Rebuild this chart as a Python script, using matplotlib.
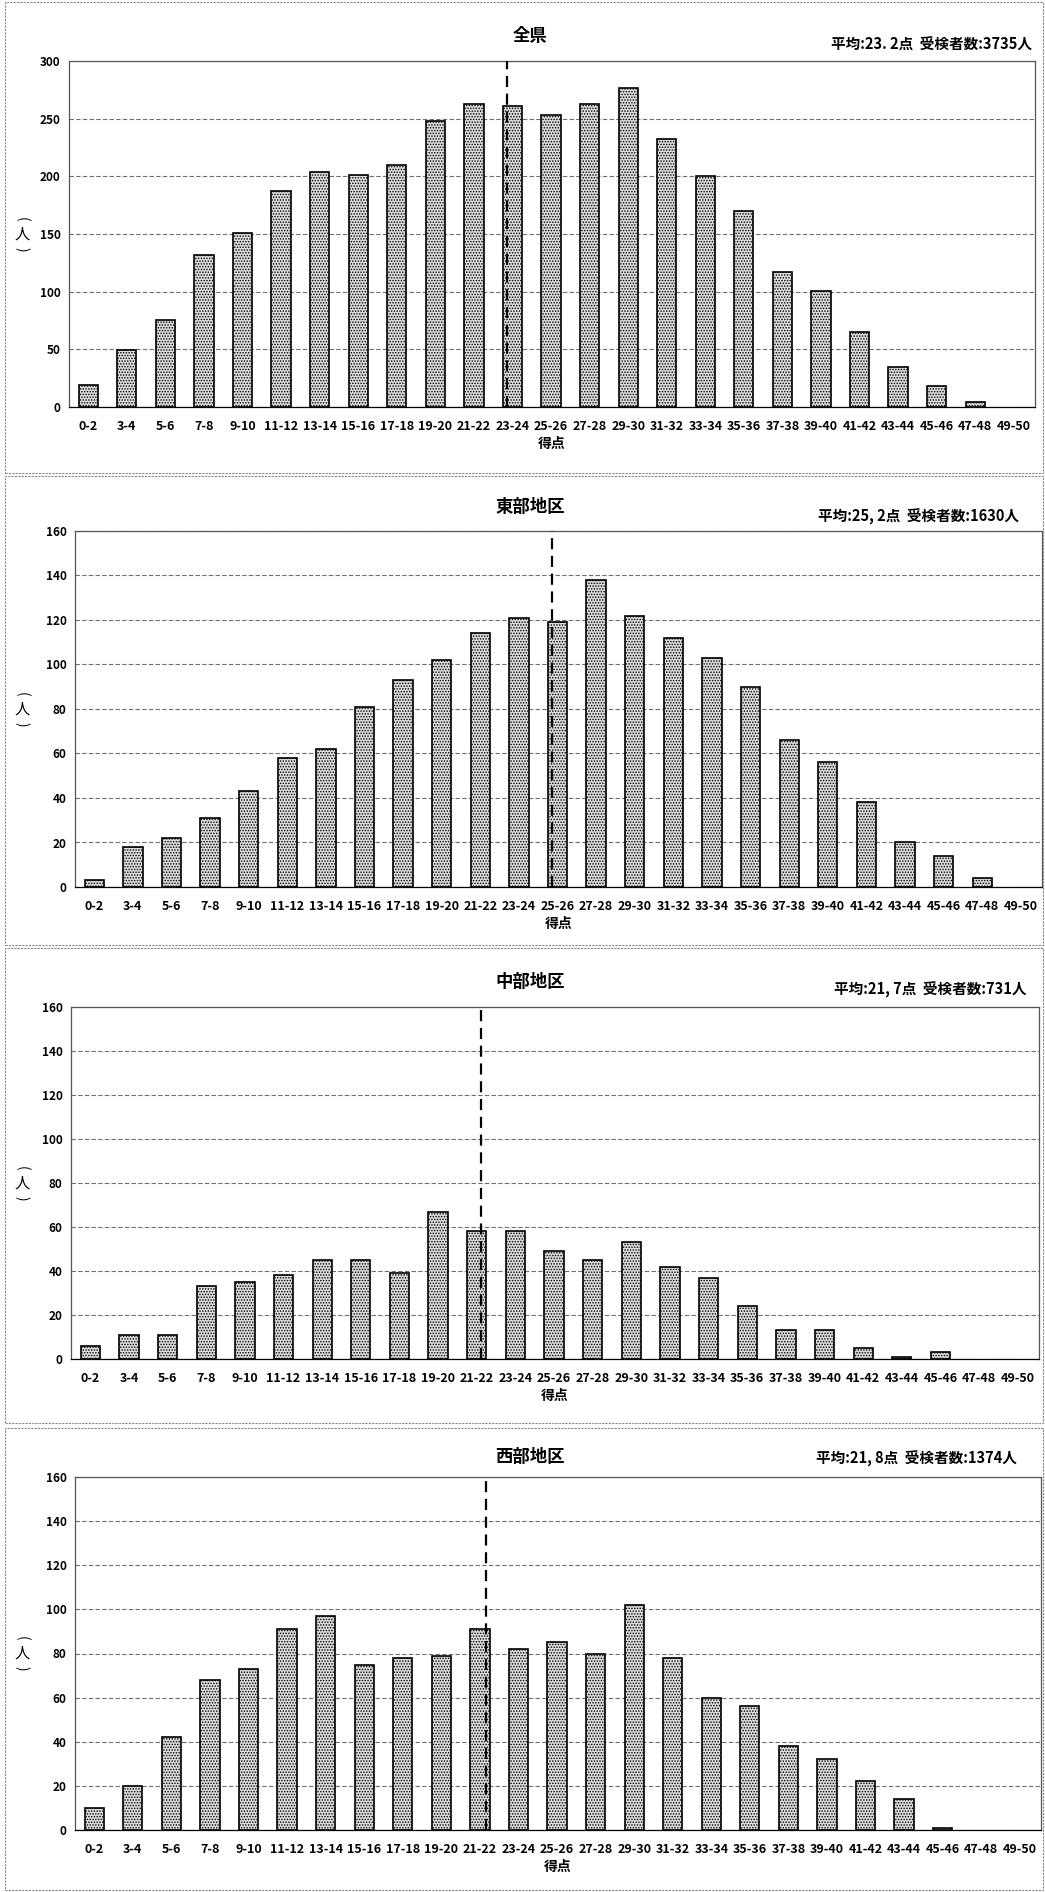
import numpy as np
import matplotlib
matplotlib.use("Agg")
import matplotlib.pyplot as plt
from matplotlib.patches import Rectangle

plt.rcParams['font.family'] = ['Noto Sans CJK JP', 'DejaVu Sans']
plt.rcParams['hatch.color'] = '#6a6a6a'
plt.rcParams['hatch.linewidth'] = 0.7

W, H = 1045, 1892

categories = ['0-2', '3-4', '5-6', '7-8', '9-10', '11-12', '13-14', '15-16',
              '17-18', '19-20', '21-22', '23-24', '25-26', '27-28', '29-30',
              '31-32', '33-34', '35-36', '37-38', '39-40', '41-42', '43-44',
              '45-46', '47-48', '49-50']

titles = ['全県', '東部地区', '中部地区', '西部地区']
means = [23.2, 25.2, 21.7, 21.8]
mean_text = ['23. 2', '25, 2', '21, 7', '21, 8']
examinees = [3735, 1630, 731, 1374]

zenken = [19, 49, 75, 132, 151, 187, 204, 201, 210, 248, 263, 261, 253,
          263, 277, 232, 200, 170, 117, 101, 65, 35, 18, 4, 0]
tobu = [3, 18, 22, 31, 43, 58, 62, 81, 93, 102, 114, 121, 119, 138, 122,
        112, 103, 90, 66, 56, 38, 20, 14, 4, 0]
chubu = [6, 11, 11, 33, 35, 38, 45, 45, 39, 67, 58, 58, 49, 45, 53, 42,
         37, 24, 13, 13, 5, 1, 3, 0, 0]
seibu = [10, 20, 42, 68, 73, 91, 97, 75, 78, 79, 91, 82, 85, 80, 102, 78,
         60, 56, 38, 32, 22, 14, 1, 0, 0]

series = [zenken, tobu, chubu, seibu]
ymax = [300, 160, 160, 160]
ystep = [50, 20, 20, 20]

# layout in pixels: axes (left, right, top, bottom), title y, note right x / y, panel box (top, bottom)
axes_px = [(69, 1035, 61, 407), (75, 1042, 531, 887),
           (71, 1039, 1007, 1359), (75, 1041, 1477, 1830)]
title_y = [36, 507, 982, 1457]
note_pos = [(1032, 45), (1019, 517), (1027, 990), (1017, 1459)]
box_px = [(2, 473), (476, 945), (948, 1423), (1428, 1890)]

fig = plt.figure(figsize=(W / 100, H / 100), dpi=100)

for k in range(4):
    l, r, t, b = axes_px[k]
    ax = fig.add_axes([l / W, 1 - b / H, (r - l) / W, (b - t) / H])
    x = np.arange(len(categories))
    vals = np.array(series[k])
    shown = vals > 0
    ax.bar(x[shown], vals[shown], width=0.5, color='#dcdcdc', edgecolor='black',
           linewidth=1.2, hatch='......', zorder=3)
    ax.set_xlim(-0.5, len(categories) - 0.45)
    ax.set_ylim(0, ymax[k])
    ax.set_yticks(np.arange(0, ymax[k] + 1, ystep[k]))
    ax.set_xticks(x)
    ax.set_xticklabels(categories, fontsize=9, fontweight='bold')
    ax.tick_params(axis='y', labelsize=8.5, length=0, pad=6)
    ax.tick_params(axis='x', length=0, pad=9)
    for lab in ax.get_yticklabels():
        lab.set_fontweight('bold')
    ax.yaxis.grid(True, linestyle=(0, (4, 2)), color='#707070', linewidth=0.8, zorder=0)
    for s in ax.spines.values():
        s.set_color('#555555')
        s.set_linewidth(0.9)
    ax.spines['bottom'].set_color('black')

    # mean line, placed on the category scale
    mx = (means[k] - 1.5) / 2
    ax.axvline(mx, color='black', linestyle=(0, (5, 3)), linewidth=1.6, zorder=4)

    ax.set_xlabel('得点', fontsize=10, fontweight='bold', labelpad=3)

    yc = (t + b) / 2
    fig.text(22 / W, 1 - (yc - 15) / H, '(', fontsize=10, rotation=-90,
             ha='center', va='center')
    fig.text(22 / W, 1 - yc / H, '人', fontsize=11, ha='center', va='center')
    fig.text(22 / W, 1 - (yc + 15) / H, ')', fontsize=10, rotation=-90,
             ha='center', va='center')

    fig.text(530 / W, 1 - title_y[k] / H, titles[k], fontsize=12.5,
             fontweight='bold', ha='center', va='center')
    nx, ny = note_pos[k]
    note = '平均:{}点  受検者数:{}人'.format(mean_text[k], examinees[k])
    fig.text(nx / W, 1 - ny / H, note, fontsize=10.5, fontweight='bold',
             ha='right', va='center')

    bt, bb = box_px[k]
    fig.patches.append(Rectangle((5 / W, 1 - bb / H), (W - 7) / W, (bb - bt) / H,
                                 transform=fig.transFigure, fill=False,
                                 edgecolor='#888888', linewidth=0.8,
                                 linestyle=(0, (2, 1))))

fig.savefig('out.png', dpi=100)
